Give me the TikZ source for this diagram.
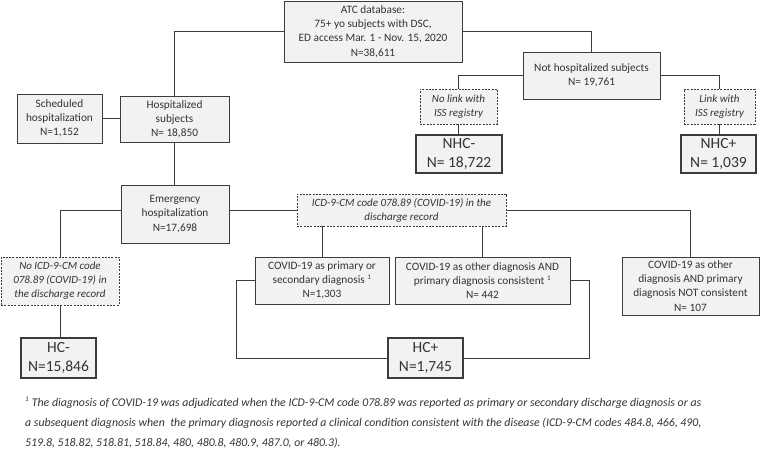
\documentclass[tikz,border=0pt]{standalone}
\usepackage{fontspec}
\setmainfont{Carlito}
\usetikzlibrary{calc}
\definecolor{boxfill}{HTML}{F2F2F2}
\definecolor{boxline}{HTML}{3C3C3C}
\definecolor{txt}{HTML}{333333}
\tikzset{
  base/.style={draw=boxline, fill=boxfill, inner sep=1pt, align=center, text=txt,
    font=\fontsize{11.3}{14.2}\selectfont},
  box/.style={base, line width=0.9pt},
  dbox/.style={base, line width=0.8pt, dash pattern=on 2pt off 1.3pt, font=\fontsize{11}{14}\selectfont\itshape},
  res/.style={base, line width=2pt, font=\fontsize{15.5}{19}\selectfont},
  conn/.style={draw=boxline, line width=0.9pt},
  notestyle/.style={anchor=base west, inner sep=0pt, text=txt, font=\fontsize{11.8}{14}\selectfont\itshape},
}
\begin{document}
\begin{tikzpicture}[x=1pt,y=-1pt]
\useasboundingbox (0,0) rectangle (760,455);
\node[box, minimum width=178, minimum height=61] (atc) at (373,31.5)
  {ATC database:\\75+ yo subjects with DSC,\\ED access Mar. 1 - Nov. 15, 2020\\N=38,611};
\node[box, minimum width=85, minimum height=49] (sched) at (59.5,118.5)
  {Scheduled\\hospitalization\\N=1,152};
\node[box, minimum width=109, minimum height=46] (hosp) at (174.5,119)
  {Hospitalized\\subjects\\N= 18,850};
\node[box, minimum width=137, minimum height=47] (nothosp) at (591.5,75.5)
  {Not hospitalized subjects\\N= 19,761};
\node[dbox, minimum width=77, minimum height=35] (nolink) at (458.5,106.5)
  {No link with\\ISS registry};
\node[dbox, minimum width=71, minimum height=35] (link) at (719.5,106.5)
  {Link with\\ISS registry};
\node[res, minimum width=86, minimum height=38] (nhcm) at (459,154)
  {NHC-\\N= 18,722};
\node[res, minimum width=75, minimum height=38] (nhcp) at (718.5,154)
  {NHC+\\N= 1,039};
\node[box, minimum width=108, minimum height=58] (emerg) at (175,214)
  {Emergency\\hospitalization\\N=17,698};
\node[dbox, minimum width=209, minimum height=32] (icd) at (401.5,210)
  {ICD-9-CM code 078.89 (COVID-19) in the\\discharge record};
\node[dbox, minimum width=118, minimum height=48] (noicd) at (60,281)
  {No ICD-9-CM code\\078.89 (COVID-19) in\\the discharge record};
\node[res, minimum width=75, minimum height=40] (hcm) at (58.5,358)
  {HC-\\N=15,846};
\node[box, minimum width=134, minimum height=47] (covp) at (322,280.5)
  {COVID-19 as primary or\\secondary diagnosis \textsuperscript{\scriptsize 1}\\N=1,303};
\node[box, minimum width=175, minimum height=47] (covo) at (482.5,280.5)
  {COVID-19 as other diagnosis AND\\primary diagnosis consistent \textsuperscript{\scriptsize 1}\\N= 442};
\node[box, minimum width=137, minimum height=58] (covn) at (690.5,286)
  {COVID-19 as other\\diagnosis AND primary\\diagnosis NOT consistent\\N= 107};
\node[res, minimum width=75, minimum height=40] (hcp) at (425.5,358)
  {HC+\\N=1,745};
\node[notestyle] (note1) at (25,406)
  {\textsuperscript{\scriptsize 1} The diagnosis of COVID-19 was adjudicated when the ICD-9-CM code 078.89 was reported as primary or secondary discharge diagnosis or as};
\node[notestyle] (note2) at (25,426.5)
  {a subsequent diagnosis when\ \ the primary diagnosis reported a clinical condition consistent with the disease (ICD-9-CM codes 484.8, 466, 490,};
\node[notestyle] (note3) at (25,446.5)
  {519.8, 518.82, 518.81, 518.84, 480, 480.8, 480.9, 487.0, or 480.3).};
% connectors
\draw[conn] (atc.west) -| (hosp.north);
\draw[conn] (atc.east) -| (nothosp.north);
\draw[conn] (nothosp.west) -| (nolink.north);
\draw[conn] (nothosp.east) -| (link.north);
\draw[conn] (nolink.south) -- (nolink.south |- nhcm.north);
\draw[conn] (link.south) -- (link.south |- nhcp.north);
\draw[conn] (sched.east) -- (sched.east -| hosp.west);
\draw[conn] (hosp.south) -- (hosp.south |- emerg.north);
\draw[conn] (icd.west) -- (icd.west -| emerg.east);
\draw[conn] (emerg.west |- icd.west) -| (noicd.north);
\draw[conn] (noicd.south) -- (noicd.south |- hcm.north);
\draw[conn] (icd.east) -| (covn.north);
\draw[conn] (covp.north |- icd.south) -- (covp.north);
\draw[conn] (covo.north |- icd.south) -- (covo.north);
\draw[conn] (covp.west) -- ++(-18,0) |- (hcp.west);
\draw[conn] (covo.east) -- ++(19,0) |- (hcp.east);
\end{tikzpicture}
\end{document}
